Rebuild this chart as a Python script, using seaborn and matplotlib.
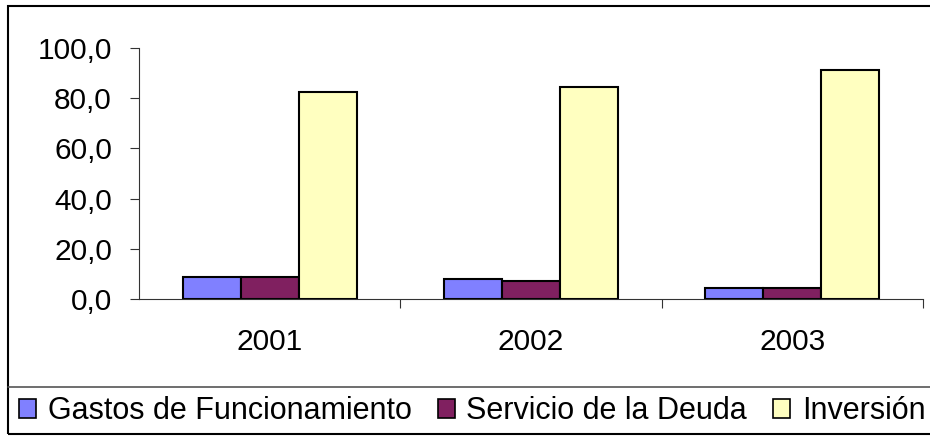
import pandas as pd
import seaborn as sns
import matplotlib.pyplot as plt
from matplotlib.patches import Rectangle, Patch
from matplotlib.lines import Line2D
from matplotlib.ticker import FixedLocator

anios = ["2001", "2002", "2003"]
series = ["Gastos de Funcionamiento", "Servicio de la Deuda", "Inversión"]
gastos = [8.8, 8.0, 4.3]
deuda = [8.8, 7.2, 4.3]
inversion = [82.3, 84.5, 91.3]
colores = ["#8080FF", "#802060", "#FFFFC0"]
yticks = [0, 20, 40, 60, 80, 100]

df = pd.DataFrame({
    "anio": anios * 3,
    "serie": [series[0]] * 3 + [series[1]] * 3 + [series[2]] * 3,
    "valor": gastos + deuda + inversion,
})

sns.set_style("white")
plt.rcParams['font.family'] = ['Liberation Sans', 'DejaVu Sans']
plt.rcParams['text.color'] = 'black'
plt.rcParams['xtick.labelcolor'] = 'black'
plt.rcParams['ytick.labelcolor'] = 'black'

fig = plt.figure(figsize=(9.3, 4.38), dpi=100)
ax = fig.add_axes([0.1495, 0.3174, 0.843, 0.573])

sns.barplot(data=df, x="anio", y="valor", hue="serie", hue_order=series,
            palette=colores, width=0.665, edgecolor="black", linewidth=1.5,
            saturation=1, ax=ax, legend=False)

ax.set_xlim(-0.5, 2.5)
ax.set_ylim(0, 100)
ax.set_yticks(yticks)
ax.set_yticklabels([f"{v:.1f}".replace(".", ",") for v in yticks], fontsize=21.5)
ax.set_xlabel("")
ax.set_ylabel("")
ax.tick_params(axis="x", which="major", length=0, pad=21, labelsize=21.5, labelcolor="black")
ax.xaxis.set_minor_locator(FixedLocator([0.5, 1.5, 2.5]))
ax.tick_params(axis="x", which="minor", length=6.5, width=0.8, color="#333333", direction="out", bottom=True)
ax.tick_params(axis="y", length=6.5, width=0.8, color="#333333", direction="out", left=True, pad=13,
               labelcolor="black")

for s in ["top", "right"]:
    ax.spines[s].set_visible(False)
for s in ["left", "bottom"]:
    ax.spines[s].set_color("#333333")
    ax.spines[s].set_linewidth(0.8)

# marco del grafico y caja de la leyenda
fig.add_artist(Rectangle((8 / 930, 4 / 438), 1.0, (434 - 6) / 438, transform=fig.transFigure,
                         fill=False, edgecolor="black", linewidth=1.5, clip_on=False))
fig.add_artist(Line2D([8 / 930, 1], [1 - 387 / 438] * 2, transform=fig.transFigure,
                      color="#555555", linewidth=1.2))

handles = [Patch(facecolor=c, edgecolor="black", linewidth=1.2) for c in colores]
leg = fig.legend(handles, series, loc="center left", bbox_to_anchor=(19 / 930, 1 - 411 / 438),
                 ncol=3, frameon=False, fontsize=22, handlelength=0.56, handleheight=0.56,
                 handletextpad=0.38, columnspacing=0.85, borderaxespad=0, borderpad=0)
for t in leg.get_texts():
    t.set_color("black")

plt.savefig("out.png", dpi=100)
